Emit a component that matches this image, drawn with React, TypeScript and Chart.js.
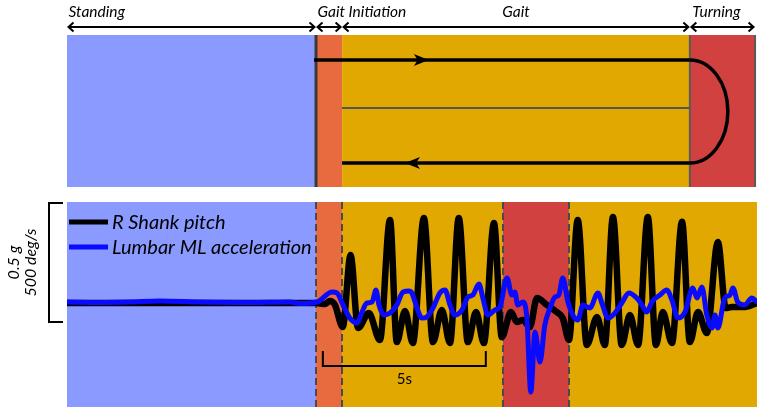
import { useEffect, useRef } from "react";
import { Chart, registerables } from "chart.js";

Chart.register(...registerables);

// ---------- data ----------
const PHASE_LABELS = ["Standing", "Gait Initiation", "Gait", "Turning"];
const PHASE_COLORS = ["#8A9AFE", "#E86A3F", "#E0A800", "#D0413F"];

// top schematic: phase boundaries (s) and which phase each segment is
const TOP_BOUNDS = [0, 7.64, 8.44, 19.11, 21.11];
const TOP_KIND = [0, 1, 2, 3];

// bottom recording: phase boundaries (s)
const BOTTOM_BOUNDS = [0, 7.64, 8.44, 13.37, 15.4, 21.17];
const BOTTOM_KIND = [0, 1, 2, 3, 2];

// walking path (s)
const PATH_OUT = [7.58, 19.11];
const PATH_BACK = [19.11, 8.44];
const PATH_MID = [8.44, 19.11];
const PATH_ARROW_OUT = 11.1;
const PATH_ARROW_BACK = 10.37;

// R shank pitch (deg/s)
const SHANK_T = [
  0, 4.08, 7.64, 7.91, 8.07, 8.22, 8.46, 8.7, 8.93, 9.26, 9.6, 9.91, 10.12, 10.37, 10.61,
  10.95, 11.23, 11.5, 11.75, 12.02, 12.3, 12.55, 12.79, 13.1, 13.34, 13.62, 13.8, 13.99,
  14.2, 14.42, 14.72, 15.03, 15.21, 15.4, 15.67, 15.95, 16.26, 16.5, 16.75, 17.02, 17.27,
  17.52, 17.82, 18.07, 18.28, 18.56, 18.87, 19.11, 19.36, 19.63, 19.97, 20.21, 20.4,
  20.8, 21.17,
];
const SHANK_V = [
  0, 0, 0, -4, 8, -8, -100, 200, -104, -42, -154, 346, -163, -33, -167, 354, -163, -29,
  -167, 354, -163, -38, -167, 333, -142, -38, -79, -71, -100, 21, -8, -38, -63, -154, 346,
  -175, -58, -175, 358, -175, -50, -175, 358, -175, -38, -167, 338, -163, -38, -125, 254,
  -21, -17, -17, 0,
];

// Lumbar ML acceleration (g)
const LUMBAR_T = [
  0, 1.01, 1.93, 2.85, 4.08, 5.61, 6.84, 7.15, 7.67, 8.13, 8.28, 8.47, 8.68, 8.9, 9.05,
  9.2, 9.36, 9.48, 9.57, 9.72, 9.91, 10.12, 10.31, 10.49, 10.58, 10.74, 10.89, 11.04,
  11.23, 11.44, 11.6, 11.75, 11.9, 12.12, 12.3, 12.45, 12.64, 12.76, 12.91, 13.13, 13.28,
  13.5, 13.65, 13.74, 13.83, 13.99, 14.11, 14.23, 14.36, 14.51, 14.66, 14.82, 14.97,
  15.09, 15.21, 15.37, 15.52, 15.67, 15.83, 16.04, 16.29, 16.41, 16.6, 16.81, 17.02,
  17.24, 17.48, 17.64, 17.79, 17.94, 18.19, 18.4, 18.56, 18.74, 18.96, 19.2, 19.33,
  19.48, 19.63, 19.79, 19.88, 19.97, 20.18, 20.34, 20.43, 20.58, 20.8, 21.01, 21.17,
];
const LUMBAR_G = [
  0.004, 0.002, 0.004, 0.008, 0.004, 0.002, 0.004, -0.002, 0.004, 0.046, 0.042, -0.008,
  -0.063, -0.083, -0.038, 0, 0.004, 0.054, -0.008, -0.05, -0.042, -0.008, 0.046, 0.05,
  0.042, -0.021, -0.063, -0.058, -0.021, 0.042, 0.054, -0.008, -0.05, -0.029, 0.025,
  0.033, 0.079, 0.021, -0.05, -0.029, -0.017, 0.104, 0.033, 0.046, -0.008, 0.004, -0.063,
  -0.371, -0.121, -0.246, -0.092, -0.021, 0.025, 0.033, 0.104, 0.004, -0.05, -0.071,
  -0.008, -0.021, 0.042, 0, -0.063, -0.042, 0, 0.042, 0.021, -0.008, -0.038, 0.004, 0.033,
  0.054, 0.013, -0.063, -0.038, 0.063, 0.021, 0.067, -0.05, -0.104, -0.05, -0.104, 0.021,
  0.033, 0.063, 0.004, -0.008, 0.021, 0.004,
];

const SERIES_LABELS = ["R Shank pitch", "Lumbar ML acceleration"];
const SERIES_COLORS = ["#000000", "#0A0AFF"];

const X_RANGE = [0, 21.17];
const Y_DEG_RANGE = [-433.3, 420.8];
const Y_G_RANGE = [-0.4333, 0.4208];

const SCALE_BAR_DEG = [-79.2, 420.8];
const SCALE_BAR_LABELS = ["0.5 g", "500 deg/s"];
const TIME_BAR = [7.85, 12.85];
const TIME_BAR_LABEL = "5s";

// ---------- layout / style ----------
const FONT = "Lato, 'Open Sans', sans-serif";
const TOP = { y0: 35, y1: 187, arrowY: 27, labelY: 17, pathTop: 60, pathMid: 108, pathBot: 163 };

function drawChevron(ctx: CanvasRenderingContext2D, x: number, y: number, dir: number) {
  ctx.beginPath();
  ctx.moveTo(x - dir * 5, y - 4.5);
  ctx.lineTo(x, y);
  ctx.lineTo(x - dir * 5, y + 4.5);
  ctx.stroke();
}

const decorPlugin = {
  id: "gaitDecor",
  beforeDatasetsDraw(chart: any) {
    const { ctx, chartArea: ca, scales } = chart;
    const xs = scales.x;
    const px = (v: number) => xs.getPixelForValue(v);

    // ---- bottom panel backgrounds ----
    for (let i = 0; i < BOTTOM_KIND.length; i++) {
      ctx.fillStyle = PHASE_COLORS[BOTTOM_KIND[i]];
      const a = px(BOTTOM_BOUNDS[i]);
      const b = px(BOTTOM_BOUNDS[i + 1]);
      ctx.fillRect(a, ca.top, b - a, ca.bottom - ca.top);
    }
    ctx.save();
    ctx.strokeStyle = "#4a4a4a";
    ctx.lineWidth = 2;
    ctx.setLineDash([7, 4]);
    for (let i = 1; i < BOTTOM_BOUNDS.length - 1; i++) {
      const x = Math.round(px(BOTTOM_BOUNDS[i]));
      ctx.beginPath();
      ctx.moveTo(x, ca.top);
      ctx.lineTo(x, ca.bottom);
      ctx.stroke();
    }
    ctx.restore();

    // ---- top schematic ----
    for (let i = 0; i < TOP_KIND.length; i++) {
      ctx.fillStyle = PHASE_COLORS[TOP_KIND[i]];
      const a = px(TOP_BOUNDS[i]);
      const b = px(TOP_BOUNDS[i + 1]);
      ctx.fillRect(a, TOP.y0, b - a, TOP.y1 - TOP.y0);
    }
    ctx.save();
    // boundary lines
    ctx.strokeStyle = "#3a3a3a";
    ctx.lineWidth = 3;
    let x = px(TOP_BOUNDS[1]);
    ctx.beginPath();
    ctx.moveTo(x, TOP.y0);
    ctx.lineTo(x, TOP.y1);
    ctx.stroke();
    ctx.strokeStyle = "#5a5a5a";
    ctx.lineWidth = 2;
    for (const v of [TOP_BOUNDS[3], TOP_BOUNDS[4]]) {
      x = px(v);
      ctx.beginPath();
      ctx.moveTo(x, TOP.y0);
      ctx.lineTo(x, TOP.y1);
      ctx.stroke();
    }
    // middle lane line
    ctx.strokeStyle = "#555555";
    ctx.lineWidth = 2;
    ctx.beginPath();
    ctx.moveTo(px(PATH_MID[0]), TOP.pathMid);
    ctx.lineTo(px(PATH_MID[1]), TOP.pathMid);
    ctx.stroke();

    // walking path
    ctx.strokeStyle = "#000";
    ctx.fillStyle = "#000";
    ctx.lineWidth = 3.5;
    ctx.beginPath();
    ctx.moveTo(px(PATH_OUT[0]), TOP.pathTop);
    ctx.lineTo(px(PATH_OUT[1]), TOP.pathTop);
    ctx.stroke();
    ctx.beginPath();
    ctx.moveTo(px(PATH_BACK[0]), TOP.pathBot);
    ctx.lineTo(px(PATH_BACK[1]), TOP.pathBot);
    ctx.stroke();
    const cx = px(PATH_OUT[1]);
    const cy = (TOP.pathTop + TOP.pathBot) / 2;
    ctx.beginPath();
    ctx.ellipse(cx, cy, 38, (TOP.pathBot - TOP.pathTop) / 2, 0, -Math.PI / 2, Math.PI / 2);
    ctx.stroke();
    // arrowheads
    const tipO = px(PATH_ARROW_OUT);
    ctx.beginPath();
    ctx.moveTo(tipO, TOP.pathTop);
    ctx.lineTo(tipO - 15, TOP.pathTop - 6);
    ctx.lineTo(tipO - 11, TOP.pathTop);
    ctx.lineTo(tipO - 15, TOP.pathTop + 6);
    ctx.closePath();
    ctx.fill();
    const tipB = px(PATH_ARROW_BACK);
    ctx.beginPath();
    ctx.moveTo(tipB, TOP.pathBot);
    ctx.lineTo(tipB + 15, TOP.pathBot - 6);
    ctx.lineTo(tipB + 11, TOP.pathBot);
    ctx.lineTo(tipB + 15, TOP.pathBot + 6);
    ctx.closePath();
    ctx.fill();

    // phase span arrows and labels
    ctx.lineWidth = 2;
    ctx.strokeStyle = "#000";
    ctx.font = `italic 15.5px ${FONT}`;
    ctx.textBaseline = "alphabetic";
    for (let i = 0; i < TOP_KIND.length; i++) {
      const a = px(TOP_BOUNDS[i]) + 1.5;
      const b = px(TOP_BOUNDS[i + 1]) - 1.5;
      ctx.beginPath();
      ctx.moveTo(a, TOP.arrowY);
      ctx.lineTo(b, TOP.arrowY);
      ctx.stroke();
      drawChevron(ctx, a, TOP.arrowY, -1);
      drawChevron(ctx, b, TOP.arrowY, 1);
      const label = PHASE_LABELS[TOP_KIND[i]];
      ctx.fillStyle = "#000";
      if (i === 2) {
        ctx.textAlign = "center";
        ctx.fillText(label, (a + b) / 2, TOP.labelY);
      } else {
        ctx.textAlign = "left";
        ctx.fillText(label, a + (i === 3 ? 1 : 0), TOP.labelY);
      }
    }
    ctx.restore();
  },
  afterDatasetsDraw(chart: any) {
    const { ctx, chartArea: ca, scales } = chart;
    const xs = scales.x;
    const ys = scales.y;
    ctx.save();
    // legend
    ctx.font = `italic 20px ${FONT}`;
    ctx.textAlign = "left";
    ctx.textBaseline = "alphabetic";
    const rows = [222, 247];
    for (let i = 0; i < SERIES_LABELS.length; i++) {
      ctx.strokeStyle = SERIES_COLORS[i];
      ctx.lineWidth = 5;
      ctx.beginPath();
      ctx.moveTo(ca.left + 2, rows[i]);
      ctx.lineTo(ca.left + 41, rows[i]);
      ctx.stroke();
      ctx.fillStyle = "#000";
      ctx.fillText(SERIES_LABELS[i], ca.left + 45, rows[i] + 7);
    }

    // amplitude scale bar
    const yA = ys.getPixelForValue(SCALE_BAR_DEG[1]) + 1;
    const yB = ys.getPixelForValue(SCALE_BAR_DEG[0]);
    ctx.strokeStyle = "#000";
    ctx.lineWidth = 2;
    ctx.beginPath();
    ctx.moveTo(63, yA);
    ctx.lineTo(49, yA);
    ctx.lineTo(49, yB);
    ctx.lineTo(63, yB);
    ctx.stroke();
    ctx.fillStyle = "#000";
    ctx.font = `italic 16px ${FONT}`;
    ctx.textAlign = "center";
    ctx.textBaseline = "middle";
    const my = (yA + yB) / 2;
    const cols = [14, 31];
    for (let i = 0; i < SCALE_BAR_LABELS.length; i++) {
      ctx.save();
      ctx.translate(cols[i], my);
      ctx.rotate(-Math.PI / 2);
      ctx.fillText(SCALE_BAR_LABELS[i], 0, 0);
      ctx.restore();
    }

    // time scale bar
    const xa = xs.getPixelForValue(TIME_BAR[0]);
    const xb = xs.getPixelForValue(TIME_BAR[1]);
    ctx.beginPath();
    ctx.moveTo(xa, 351);
    ctx.lineTo(xa, 366);
    ctx.lineTo(xb, 366);
    ctx.lineTo(xb, 351);
    ctx.stroke();
    ctx.font = `15px ${FONT}`;
    ctx.textAlign = "center";
    ctx.textBaseline = "alphabetic";
    ctx.fillText(TIME_BAR_LABEL, (xa + xb) / 2, 384);
    ctx.restore();
  },
};

export default function App() {
  const ref = useRef<HTMLCanvasElement>(null);
  useEffect(() => {
    if (!ref.current) return;
    const chart = new Chart(ref.current, {
      type: "line",
      data: {
        datasets: [
          {
            label: SERIES_LABELS[0],
            data: SHANK_T.map((t, i) => ({ x: t, y: SHANK_V[i] })),
            borderColor: SERIES_COLORS[0],
            borderWidth: 6.5,
            pointRadius: 0,
            cubicInterpolationMode: "monotone",
            yAxisID: "y",
            order: 1,
            borderJoinStyle: "round",
            borderCapStyle: "round",
          },
          {
            label: SERIES_LABELS[1],
            data: LUMBAR_T.map((t, i) => ({ x: t, y: LUMBAR_G[i] })),
            borderColor: SERIES_COLORS[1],
            borderWidth: 5,
            pointRadius: 0,
            cubicInterpolationMode: "monotone",
            yAxisID: "yg",
            order: 0,
            borderJoinStyle: "round",
            borderCapStyle: "round",
          },
        ],
      },
      options: {
        animation: false,
        responsive: false,
        events: [],
        layout: { padding: { left: 67, right: 7, top: 202, bottom: 7 } },
        scales: {
          x: { type: "linear", min: X_RANGE[0], max: X_RANGE[1], display: false },
          y: { type: "linear", min: Y_DEG_RANGE[0], max: Y_DEG_RANGE[1], display: false },
          yg: { type: "linear", min: Y_G_RANGE[0], max: Y_G_RANGE[1], display: false },
        },
        plugins: { legend: { display: false }, tooltip: { enabled: false } },
      },
      plugins: [decorPlugin],
    } as any);
    return () => chart.destroy();
  }, []);
  return (
    <div style={{ position: "absolute", left: 0, top: 0, width: 764, height: 414, background: "#fff" }}>
      <canvas ref={ref} width={764} height={414} style={{ display: "block" }} />
    </div>
  );
}
